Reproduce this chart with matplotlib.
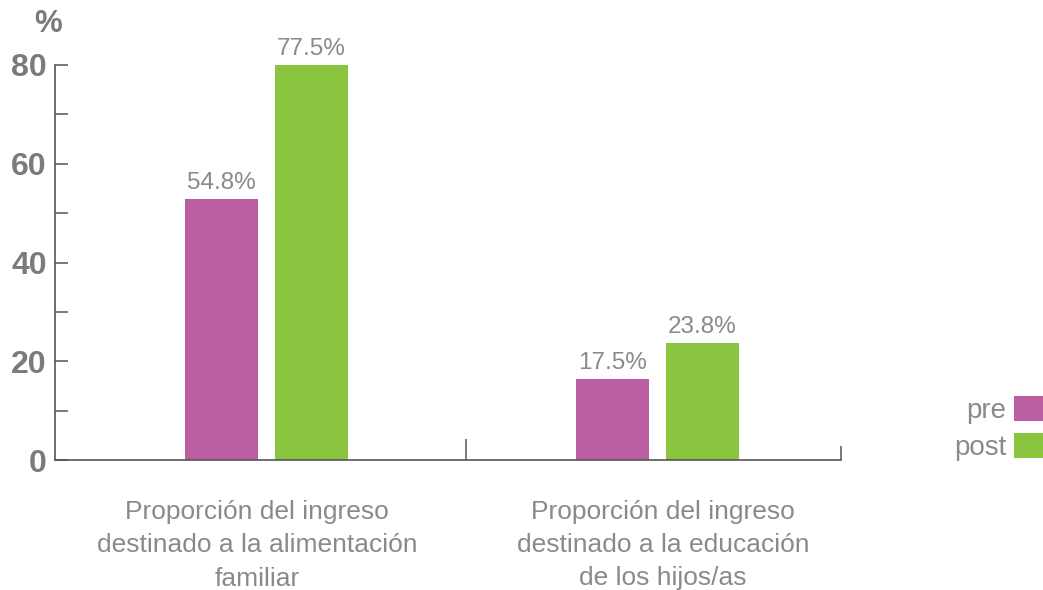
import matplotlib
matplotlib.use("Agg")
import matplotlib.pyplot as plt
import numpy as np

# datos
categories = ["Proporción del ingreso\ndestinado a la alimentación\nfamiliar",
              "Proporción del ingreso\ndestinado a la educación\nde los hijos/as"]
series_names = ["pre", "post"]
pre_values = [52.8, 16.4]
post_values = [80.0, 23.7]
pre_labels = ["54.8%", "17.5%"]
post_labels = ["77.5%", "23.8%"]
y_ticks = [0, 20, 40, 60, 80]

PINK = "#BC5FA2"
GREEN = "#8BC540"
GREY = "#8a8a8a"
DARK = "#7b7b7b"
AXIS = "#555555"

plt.rcParams['font.family'] = ['Liberation Sans', 'DejaVu Sans']

fig = plt.figure(figsize=(10.43, 5.90), dpi=100)
ax = fig.add_axes([55 / 1043, 130 / 590, 786 / 1043, 395 / 590])

x = np.arange(len(categories))
width = 0.187
off = 0.115

b1 = ax.bar(x - off, pre_values, width, color=PINK, label=series_names[0], zorder=2)
b2 = ax.bar(x + off, post_values, width, color=GREEN, label=series_names[1], zorder=2)

for bars, labels in [(b1, pre_labels), (b2, post_labels)]:
    for bar, lab in zip(bars, labels):
        ax.text(bar.get_x() + bar.get_width() / 2, bar.get_height() + 1.0, lab,
                ha='center', va='bottom', fontsize=17.5, color=GREY)

ax.set_xlim(-0.541, 1.469)
ax.set_ylim(0, 80)

# ejes
for s in ['top', 'right']:
    ax.spines[s].set_visible(False)
ax.spines['left'].set_color(AXIS)
ax.spines['bottom'].set_color(AXIS)
ax.spines['left'].set_linewidth(1.2)
ax.spines['bottom'].set_linewidth(1.2)

ax.set_yticks(y_ticks)
ax.set_yticks(np.arange(0, 81, 10), minor=True)
ax.set_yticklabels([str(v) for v in y_ticks], fontsize=23, fontweight='bold', color=DARK)
ax.tick_params(axis='y', which='both', direction='in', length=9, width=1.1, color=AXIS, pad=6)

# separador entre categorías y cierre del eje
ax.set_xticks([0.51])
ax.set_xticklabels([])
ax.set_xticks([1.469], minor=True)
ax.tick_params(axis='x', which='major', direction='in', length=15, width=1.1, color=AXIS)
ax.tick_params(axis='x', which='minor', direction='in', length=10, width=1.1, color=AXIS)

# etiquetas de categoría
for i, cat in enumerate(categories):
    ax.text(i + [-0.024, 0.014][i], -8.0, cat, ha='center', va='top', fontsize=19,
            color=GREY, linespacing=1.5)

fig.text(48 / 1043, 1 - 24 / 590, "%", ha='center', va='center', fontsize=22.5,
         fontweight='bold', color=DARK)

leg = ax.legend(loc='lower right', bbox_to_anchor=(1.0, 129 / 590),
                bbox_transform=fig.transFigure, frameon=False, markerfirst=False,
                fontsize=20, handlelength=1.04, handleheight=1.04, handletextpad=0.29,
                labelspacing=0.32, borderpad=0, borderaxespad=0)
for t in leg.get_texts():
    t.set_color(GREY)

fig.savefig("out.png", dpi=100)
